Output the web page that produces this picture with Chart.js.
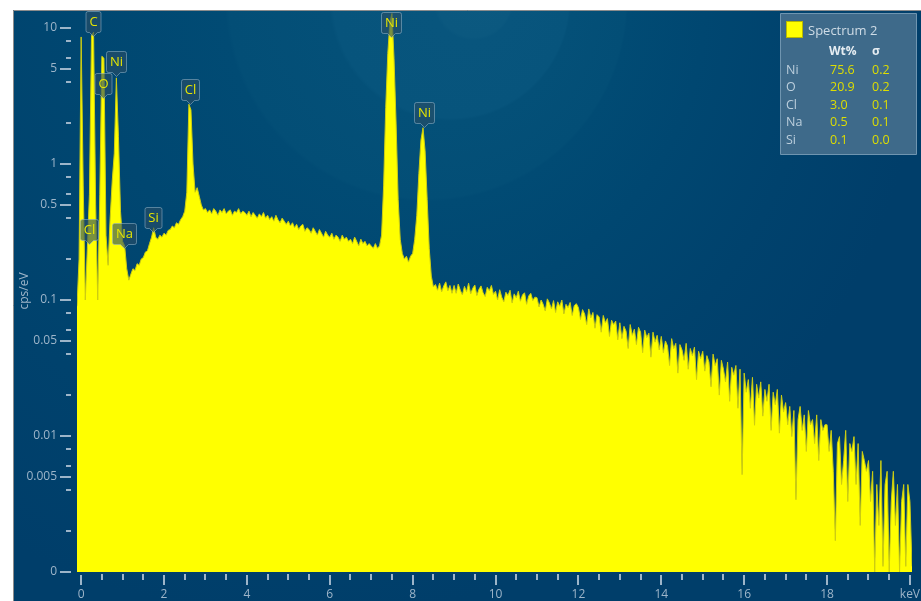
<!DOCTYPE html>
<html>
<head>
<meta charset="utf-8">
<title>EDS Spectrum 2</title>
<script src="https://cdn.jsdelivr.net/npm/chart.js@4.4.1/dist/chart.umd.min.js"></script>
<style>
  html, body { margin: 0; padding: 0; background: #ffffff; }
  #wrap { position: absolute; left: 0; top: 0; width: 921px; height: 601px; }
</style>
</head>
<body>
<div id="wrap"><canvas id="spectrum" width="921" height="601"></canvas></div>
<script>
// Detector channel calibration (keV) and the floor of the log axis, labelled "0"
const CHANNEL_START_KEV = -0.10;
const CHANNEL_WIDTH_KEV = 0.05;
const ZERO_LEVEL = 0.001;

// Spectrum 2 intensity per channel, cps/eV (one row per keV)
const counts = [
  0.09, 0.2,
  /* 0 keV */ 8.6, 0.7, 0.1, 0.24, 0.6, 8.8, 9.3, 0.5, 0.1, 0.6, 6.2, 6.0, 0.3, 0.18, 0.4, 0.75, 1.2, 4.3, 1.6, 0.45,
  /* 1 keV */ 0.27, 0.25, 0.17, 0.14, 0.155, 0.17, 0.165, 0.185, 0.18, 0.2, 0.205, 0.225, 0.23, 0.26, 0.29, 0.34, 0.29, 0.28, 0.3, 0.29,
  /* 2 keV */ 0.31, 0.3, 0.325, 0.33, 0.35, 0.34, 0.37, 0.36, 0.39, 0.41, 0.45, 0.62, 2.75, 2.5, 1.0, 0.62, 0.67, 0.58, 0.5, 0.46,
  /* 3 keV */ 0.47, 0.44, 0.46, 0.43, 0.47, 0.45, 0.42, 0.46, 0.44, 0.47, 0.43, 0.45, 0.46, 0.42, 0.45, 0.44, 0.47, 0.43, 0.45, 0.44,
  /* 4 keV */ 0.42, 0.45, 0.41, 0.44, 0.42, 0.40, 0.43, 0.41, 0.44, 0.40, 0.42, 0.39, 0.41, 0.38, 0.42, 0.39, 0.37, 0.40, 0.38, 0.36,
  /* 5 keV */ 0.38, 0.35, 0.37, 0.34, 0.36, 0.33, 0.35, 0.36, 0.32, 0.34, 0.33, 0.31, 0.34, 0.32, 0.30, 0.33, 0.31, 0.29, 0.32, 0.30,
  /* 6 keV */ 0.29, 0.31, 0.28, 0.30, 0.29, 0.27, 0.30, 0.28, 0.29, 0.27, 0.28, 0.26, 0.29, 0.27, 0.25, 0.28, 0.26, 0.27, 0.25, 0.26,
  /* 7 keV */ 0.25, 0.24, 0.26, 0.24, 0.25, 0.3, 0.7, 2.6, 6.5, 11.0, 12.8, 6.0, 2.0, 0.55, 0.28, 0.22, 0.2, 0.21, 0.19, 0.21,
  /* 8 keV */ 0.22, 0.28, 0.42, 0.85, 1.5, 1.85, 1.25, 0.55, 0.24, 0.15, 0.125, 0.13, 0.118, 0.133, 0.115, 0.127, 0.136, 0.117, 0.128, 0.112,
  /* 9 keV */ 0.128, 0.112, 0.131, 0.118, 0.109, 0.126, 0.115, 0.133, 0.111, 0.122, 0.129, 0.108, 0.12, 0.127, 0.113, 0.106, 0.124, 0.117, 0.128, 0.11,
  /* 10 keV */ 0.116, 0.1, 0.119, 0.105, 0.097, 0.114, 0.108, 0.118, 0.095, 0.111, 0.104, 0.116, 0.098, 0.109, 0.113, 0.093, 0.107, 0.112, 0.099, 0.105,
  /* 11 keV */ 0.104, 0.089, 0.1, 0.093, 0.083, 0.102, 0.095, 0.086, 0.099, 0.081, 0.097, 0.09, 0.1, 0.079, 0.093, 0.088, 0.096, 0.077, 0.091, 0.094,
  /* 12 keV */ 0.088, 0.072, 0.085, 0.079, 0.066, 0.086, 0.074, 0.081, 0.062, 0.078, 0.075, 0.058, 0.077, 0.068, 0.073, 0.054, 0.071, 0.066, 0.07, 0.051,
  /* 13 keV */ 0.068, 0.052, 0.064, 0.059, 0.044, 0.066, 0.055, 0.061, 0.047, 0.063, 0.058, 0.041, 0.06, 0.053, 0.057, 0.038, 0.058, 0.049, 0.055, 0.043,
  /* 14 keV */ 0.054, 0.041, 0.05, 0.046, 0.033, 0.052, 0.044, 0.048, 0.029, 0.047, 0.043, 0.036, 0.048, 0.031, 0.044, 0.039, 0.045, 0.026, 0.042, 0.037,
  /* 15 keV */ 0.042, 0.03, 0.039, 0.035, 0.023, 0.04, 0.033, 0.037, 0.02, 0.036, 0.031, 0.025, 0.035, 0.018, 0.032, 0.028, 0.033, 0.016, 0.031, 0.0052,
  /* 16 keV */ 0.029, 0.021, 0.026, 0.016, 0.027, 0.012, 0.024, 0.019, 0.025, 0.014, 0.022, 0.018, 0.024, 0.011, 0.021, 0.017, 0.022, 0.0105, 0.02, 0.015,
  /* 17 keV */ 0.0176, 0.0121, 0.0165, 0.0099, 0.0154, 0.0034, 0.0132, 0.0165, 0.011, 0.0143, 0.0077, 0.0154, 0.0121, 0.0132, 0.0088, 0.0143, 0.0066, 0.0132, 0.011, 0.0121,
  /* 18 keV */ 0.0121, 0.0077, 0.011, 0.0055, 0.0017, 0.0088, 0.0099, 0.0044, 0.0066, 0.011, 0.0033, 0.0088, 0.0077, 0.0099, 0.0044, 0.0088, 0.0022, 0.0077, 0.0066, 0.0055,
  /* 19 keV */ 0.0066, 0.0033, 0.0055, 0, 0.0044, 0.0022, 0.0066, 0.0011, 0.0044, 0.0055, 0, 0.0033, 0.0055, 0.0022, 0.0044, 0, 0.0033, 0.0044, 0.0011, 0.0044,
  /* 20 keV */ 0.0033, 0.0011
];

// Identified lines: element, line energy (keV) and the level the tag points at (cps/eV)
const peakElements = ['Cl', 'C', 'O', 'Ni', 'Na', 'Si', 'Cl', 'Ni', 'Ni'];
const peakKeV      = [0.183, 0.277, 0.525, 0.851, 1.041, 1.740, 2.622, 7.478, 8.265];
const peakTagLevel = [0.259, 8.73, 3.06, 4.44, 0.24, 0.316, 2.76, 8.58, 1.87];

// Quantification table
const quantElements = ['Ni', 'O', 'Cl', 'Na', 'Si'];
const quantWt       = ['75.6', '20.9', '3.0', '0.5', '0.1'];
const quantSigma    = ['0.2', '0.2', '0.1', '0.1', '0.0'];

// Axis ticks
const yTickValues = [0.001, 0.002, 0.004, 0.005, 0.006, 0.008, 0.01, 0.02, 0.04, 0.05, 0.06, 0.08,
                     0.1, 0.2, 0.4, 0.5, 0.6, 0.8, 1, 2, 4, 5, 6, 8, 10];
const yTickLabels = ['0', '', '', '0.005', '', '', '0.01', '', '', '0.05', '', '',
                     '0.1', '', '', '0.5', '', '', '1', '', '', '5', '', '', '10'];
const xTickLabels = ['0', '2', '4', '6', '8', '10', '12', '14', '16', '18', 'keV'];
const X_MINOR_STEP = 0.5;

const AXIS_COLOR = '#9db5c9';
const FONT = '"Open Sans", "Noto Sans", sans-serif';

const spectrum = counts.map((c, i) => ({
  x: CHANNEL_START_KEV + i * CHANNEL_WIDTH_KEV,
  y: c > 0 ? c : ZERO_LEVEL
}));

// Dark blue panel with its soft radial glow
const panelBackground = {
  id: 'panelBackground',
  beforeDraw(chart) {
    const { ctx, width, height } = chart;
    ctx.save();
    ctx.fillStyle = '#ffffff';
    ctx.fillRect(0, 0, width, height);
    const g = ctx.createRadialGradient(485, 0, 0, 305, 0, 620);
    g.addColorStop(0.00, 'rgb(12,89,128)');
    g.addColorStop(0.06, 'rgb(11,88,127)');
    g.addColorStop(0.065, 'rgb(8,85,125)');
    g.addColorStop(0.19, 'rgb(7,84,124)');
    g.addColorStop(0.195, 'rgb(4,80,120)');
    g.addColorStop(0.32, 'rgb(3,78,118)');
    g.addColorStop(0.325, 'rgb(1,75,116)');
    g.addColorStop(0.5, 'rgb(0,71,113)');
    g.addColorStop(0.75, 'rgb(0,66,109)');
    g.addColorStop(1.0, 'rgb(0,62,106)');
    ctx.fillStyle = g;
    ctx.fillRect(13, 10, width - 13, height - 10);
    ctx.strokeStyle = '#8c8c8c';
    ctx.lineWidth = 1;
    ctx.beginPath();
    ctx.moveTo(13.5, height);
    ctx.lineTo(13.5, 10.5);
    ctx.lineTo(width, 10.5);
    ctx.stroke();
    ctx.restore();
  }
};

// Short tick dashes beside each axis
const axisTicks = {
  id: 'axisTicks',
  afterDraw(chart) {
    const { ctx, scales: { x, y } } = chart;
    ctx.save();
    ctx.fillStyle = AXIS_COLOR;
    y.ticks.forEach((t, i) => {
      const py = Math.round(y.getPixelForValue(t.value));
      if (yTickLabels[i]) ctx.fillRect(60, py - 1, 11, 2);
      else ctx.fillRect(66, py - 1, 5, 2);
    });
    x.ticks.forEach(t => {
      const px = Math.round(x.getPixelForValue(t.value));
      const major = Math.abs(t.value / 2 - Math.round(t.value / 2)) < 1e-9;
      if (major) ctx.fillRect(px - 1, 575, 2, 10);
      else ctx.fillRect(px - 1, 574, 2, 6);
    });
    ctx.restore();
  }
};

// Element tags above the identified peaks
const peakTags = {
  id: 'peakTags',
  afterDatasetsDraw(chart) {
    const { ctx, scales: { x, y } } = chart;
    ctx.save();
    ctx.font = '13px ' + FONT;
    ctx.textAlign = 'center';
    ctx.textBaseline = 'middle';
    peakElements.forEach((el, i) => {
      const px = Math.round(x.getPixelForValue(peakKeV[i])) + 0.5;
      const tipY = Math.round(y.getPixelForValue(peakTagLevel[i])) + 0.5;
      const w = Math.round(ctx.measureText(el).width) + 7;
      const h = 21, ph = 4, pw = 4, r = 2;
      const bottom = tipY - ph, top = bottom - h;
      const left = px - w / 2, right = px + w / 2;
      ctx.beginPath();
      ctx.moveTo(left + r, top);
      ctx.lineTo(right - r, top);
      ctx.quadraticCurveTo(right, top, right, top + r);
      ctx.lineTo(right, bottom - r);
      ctx.quadraticCurveTo(right, bottom, right - r, bottom);
      ctx.lineTo(px + pw, bottom);
      ctx.lineTo(px, tipY);
      ctx.lineTo(px - pw, bottom);
      ctx.lineTo(left + r, bottom);
      ctx.quadraticCurveTo(left, bottom, left, bottom - r);
      ctx.lineTo(left, top + r);
      ctx.quadraticCurveTo(left, top, left + r, top);
      ctx.closePath();
      ctx.fillStyle = 'rgba(40,78,102,0.62)';
      ctx.fill();
      ctx.strokeStyle = 'rgba(150,180,200,0.55)';
      ctx.lineWidth = 1;
      ctx.stroke();
      ctx.fillStyle = '#e6e600';
      ctx.fillText(el, px, top + h / 2 + 0.5);
    });
    ctx.restore();
  }
};

// Legend panel with the weight-percent table
const quantPanel = {
  id: 'quantPanel',
  afterDraw(chart) {
    const ctx = chart.ctx;
    const bx = 780.5, by = 13.5, bw = 136, bh = 141;
    ctx.save();
    ctx.fillStyle = '#3e6a8a';
    ctx.strokeStyle = '#6f95b0';
    ctx.lineWidth = 1;
    ctx.beginPath();
    ctx.rect(bx, by, bw, bh);
    ctx.fill();
    ctx.stroke();

    ctx.fillStyle = '#ffff00';
    ctx.fillRect(786, 21, 17, 17);
    ctx.strokeStyle = '#b8b800';
    ctx.strokeRect(786.5, 21.5, 16, 16);

    ctx.textBaseline = 'middle';
    ctx.textAlign = 'left';
    ctx.font = '13px ' + FONT;
    ctx.fillStyle = '#cfdce6';
    ctx.fillText(chart.data.datasets[0].label, 808, 31.5);

    ctx.font = 'bold 12px ' + FONT;
    ctx.fillStyle = '#e6edf2';
    ctx.fillText('Wt%', 829, 52);
    ctx.fillText('\u03c3', 872, 52);

    ctx.font = '12.5px ' + FONT;
    quantElements.forEach((el, i) => {
      const ry = 70 + i * 17.5;
      ctx.fillStyle = '#bccfdd';
      ctx.fillText(el, 786, ry);
      ctx.fillStyle = '#dede00';
      ctx.fillText(quantWt[i], 830, ry);
      ctx.fillText(quantSigma[i], 872, ry);
    });
    ctx.restore();
  }
};

new Chart(document.getElementById('spectrum'), {
  type: 'line',
  data: {
    datasets: [{
      label: 'Spectrum 2',
      data: spectrum,
      borderColor: 'rgb(205,205,18)',
      backgroundColor: '#ffff00',
      borderWidth: 1,
      pointRadius: 0,
      tension: 0,
      fill: 'start'
    }]
  },
  options: {
    responsive: false,
    animation: false,
    devicePixelRatio: 1,
    layout: { padding: { left: 13, top: 10, right: 9, bottom: 0 } },
    plugins: { legend: { display: false }, tooltip: { enabled: false } },
    scales: {
      x: {
        type: 'linear',
        min: -0.10,
        max: 20.05,
        bounds: 'data',
        grid: { display: false, drawTicks: false },
        border: { display: false },
        afterBuildTicks: s => {
          const t = [];
          for (let v = 0; v <= 20 + 1e-9; v += X_MINOR_STEP) t.push({ value: Math.round(v * 10) / 10 });
          s.ticks = t;
        },
        afterFit: s => { s.height = 29; s.paddingLeft = 0; s.paddingRight = 0; },
        ticks: {
          autoSkip: false,
          maxRotation: 0,
          minRotation: 0,
          padding: 15,
          color: AXIS_COLOR,
          font: { family: FONT, size: 12 },
          callback: v => {
            const k = v / 2;
            return Math.abs(k - Math.round(k)) < 1e-9 ? xTickLabels[Math.round(k)] : '';
          }
        }
      },
      y: {
        type: 'logarithmic',
        min: ZERO_LEVEL,
        max: 13.57,
        bounds: 'data',
        grid: { display: false, drawTicks: false },
        border: { display: false },
        afterBuildTicks: s => { s.ticks = yTickValues.map(v => ({ value: v })); },
        afterFit: s => { s.width = 64; s.paddingTop = 0; s.paddingBottom = 0; },
        title: {
          display: true,
          text: 'cps/eV',
          color: AXIS_COLOR,
          font: { family: FONT, size: 12 },
          padding: { top: 4, bottom: 0 }
        },
        ticks: {
          autoSkip: false,
          padding: 20,
          color: AXIS_COLOR,
          font: { family: FONT, size: 12 },
          callback: (v, i) => yTickLabels[i]
        }
      }
    }
  },
  plugins: [panelBackground, peakTags, axisTicks, quantPanel]
});
</script>
</body>
</html>
